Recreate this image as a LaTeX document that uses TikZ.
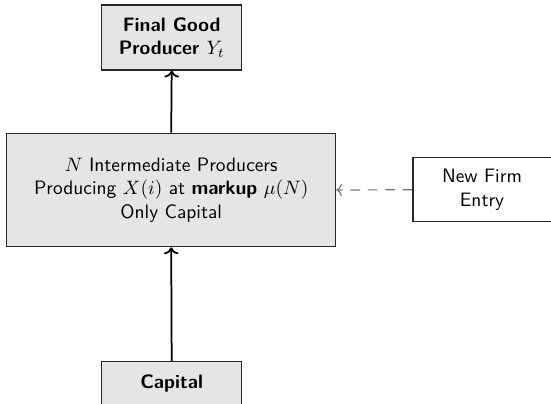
\documentclass[tikz,border=0pt]{standalone}
\usepackage{fontspec}
\usetikzlibrary{arrows.meta}
\begin{document}
\begin{tikzpicture}[x=0.515pt,y=-0.515pt,
  font=\sffamily,
  block/.style={draw=black!85, line width=0.55pt, fill=gray!20, align=center},
  plainblock/.style={draw=black!85, line width=0.55pt, fill=white, align=center},
  flow/.style={->, line width=0.9pt, black},
  entry/.style={->, dashed, line width=0.6pt, gray!90!black, dash pattern=on 5pt off 4pt}]
\useasboundingbox (0,0) rectangle (551,403);

\node[block, minimum width=72.1pt, minimum height=33.5pt] (final) at (171.7,37.5)
  {\bfseries Final Good\\\bfseries Producer $Y_t$};

\node[block, minimum width=169.4pt, minimum height=58.5pt] (inter) at (171.2,190)
  {$N$ Intermediate Producers\\
   Producing $X(i)$ at \textbf{markup} $\mu(N)$\\
   Only Capital};

\node[plainblock, minimum width=71.1pt, minimum height=33pt] (entry) at (482,189.7)
  {New Firm\\Entry};

\node[block, minimum width=72.1pt, anchor=north, text height=10.4pt, text depth=20pt,
  inner sep=3.33pt] (capital) at (171.7,361) {\bfseries Capital};

\draw[flow] (capital.north) -- (inter.south);
\draw[flow] (inter.north) -- (final.south);
\draw[entry] (entry.west) -- (inter.east);
\end{tikzpicture}
\end{document}
